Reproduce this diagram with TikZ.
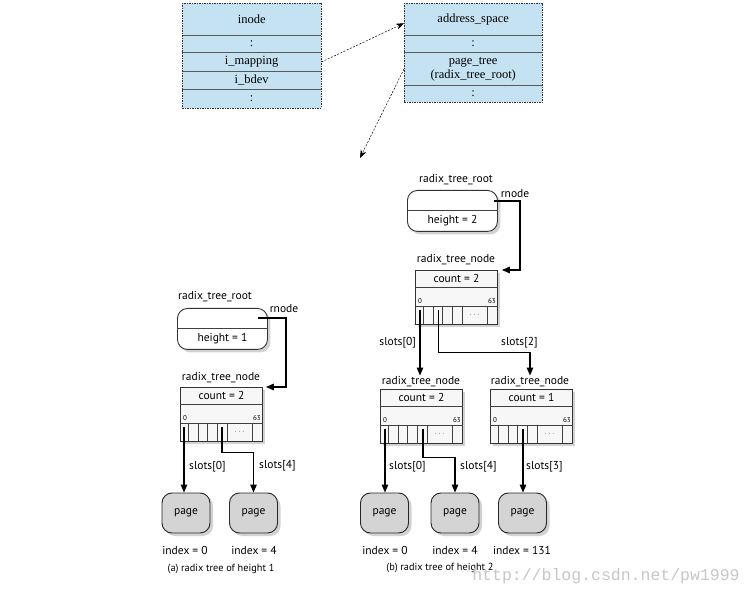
\documentclass[tikz,border=0pt]{standalone}
\usepackage{fontspec}
\setmainfont{Liberation Serif}
\newfontfamily\treefont{PT Sans}
\newfontfamily\wmfont{Liberation Mono}
\usetikzlibrary{shadows,arrows.meta,calc}
\definecolor{topblue}{RGB}{196,226,242}
\definecolor{pagegray}{RGB}{212,212,212}

\newcommand\rtroot[4]{%
  \node[rootbox] (#1) at (#2,#3) {};
  \draw[boxline] ($(#1.north west)+(0,20)$) -- ($(#1.north east)+(0,20)$);
  \node[tt] at ($(#1.north)+(0,30.5)$) {#4};
}
\newcommand\rtnode[4]{%
  \node[nodebox] (#1) at (#2,#3) {};
  \draw[boxline] ($(#1.north west)+(0,17)$) -- ($(#1.north east)+(0,17)$);
  \draw[boxline] ($(#1.north west)+(0,36)$) -- ($(#1.north east)+(0,36)$);
  \foreach \dx in {8,18,27,37,47,72}
    \draw[boxline] ($(#1.north west)+(\dx,36)$) -- ($(#1.north west)+(\dx,54)$);
  \node[tt] at ($(#1.north)+(0,8.5)$) {#4};
  \node[tinyt] at ($(#1.north west)+(5,31)$) {0};
  \node[tinyt] at ($(#1.north east)+(-6,31)$) {63};
  \node[tinyt] at ($(#1.north west)+(59.5,45)$) {$\cdots$};
}

\begin{document}
\begin{tikzpicture}[x=1pt,y=-1pt,
  cell/.style={fill=topblue, inner sep=0pt, anchor=north west,
    font=\fontsize{12.5}{14}\selectfont, align=center},
  icell/.style={cell, text width=139pt},
  acell/.style={cell, text width=138pt},
  divline/.style={draw=black!65, line width=0.6pt},
  outline/.style={draw=black!80, line width=0.6pt, dash pattern=on 1.5pt off 1pt},
  ptr/.style={line width=0.5pt, dash pattern=on 2pt off 1.5pt,
    -{Stealth[length=8pt,width=6pt]}},
  tt/.style={font=\treefont\fontsize{11.5}{13}\selectfont, inner sep=1pt},
  capt/.style={font=\treefont\fontsize{10.3}{12}\selectfont, inner sep=1pt},
  tinyt/.style={font=\treefont\fontsize{7}{8}\selectfont, inner sep=0pt},
  boxline/.style={draw=black!75, line width=0.7pt},
  shadowed/.style={drop shadow={shadow xshift=3pt,shadow yshift=-3pt,fill=black!35}},
  rootbox/.style={draw=black!80, line width=0.9pt, fill=white, rounded corners=10pt,
    minimum width=90pt, minimum height=41pt, inner sep=0pt, anchor=north west, shadowed},
  nodebox/.style={draw=black!80, line width=0.9pt, fill=black!3,
    minimum width=82pt, minimum height=54pt, inner sep=0pt, anchor=north west, shadowed},
  pagebox/.style={draw=black!85, line width=0.9pt, fill=pagegray, rounded corners=10pt,
    minimum width=48pt, minimum height=40pt, inner sep=0pt,
    font=\treefont\fontsize{11.5}{13}\selectfont, shadowed},
  conn/.style={line width=1.3pt, -{Triangle[length=8pt,width=6.5pt]}},
]
\useasboundingbox[fill=white] (0,0) rectangle (753,596);

% ---------- inode ----------
\node[icell, minimum height=32pt] (inT) at (182,3) {inode};
\node[icell, minimum height=17pt] (inD1) at (inT.south west) {:};
\node[icell, minimum height=18pt] (inM) at (inD1.south west) {i\_mapping};
\node[icell, minimum height=18pt] (inB) at (inM.south west) {i\_bdev};
\node[icell, minimum height=18pt] (inD2) at (inB.south west) {:};
\draw[divline] (inD1.north west) -- (inD1.north east);
\draw[divline] (inM.north west) -- (inM.north east);
\draw[divline] (inB.north west) -- (inB.north east);
\draw[divline] (inD2.north west) -- (inD2.north east);
\draw[outline] (inT.north west) rectangle (inD2.south east);

% ---------- address_space ----------
\node[acell, minimum height=32pt] (asT) at (404,3) {address\_space};
\node[acell, minimum height=17pt] (asD1) at (asT.south west) {:};
\node[acell, minimum height=32pt] (asP) at (asD1.south west) {page\_tree\\(radix\_tree\_root)};
\node[acell, minimum height=17pt] (asD2) at (asP.south west) {:};
\draw[divline] (asD1.north west) -- (asD1.north east);
\draw[divline] (asP.north west) -- (asP.north east);
\draw[divline] (asD2.north west) -- (asD2.north east);
\draw[outline] (asT.north west) rectangle (asD2.south east);

\draw[ptr] (inM.east) -- ([yshift=-4pt]asT.west);
\coordinate (tip) at (360,158);
\draw[ptr] (asP.west) -- (tip);

% ---------- (a) radix tree of height 1 ----------
\node[tt] (lblRA) at (215,297) {radix\_tree\_root};
\rtroot{rootA}{177}{308}{height = 1}
\node[tt] (rnA) at (284,309) {rnode};
\node[tt] (lblNA) at (221,378) {radix\_tree\_node};
\rtnode{nodeA}{180}{387}{count = 2}
\coordinate (rA) at ($(rootA.north east)+(-10,10)$);
\draw[conn] (rA) -- ++(28,0) |- ($(nodeA.north east)+(3,0)$);

\node[pagebox] (pA1) at (186,513) {page};
\node[pagebox] (pA2) at (253.5,513) {page};
\coordinate (sA0) at ($(nodeA.north west)+(4,40)$);
\coordinate (sA4) at ($(nodeA.north west)+(42,40)$);
\draw[conn] (sA0) -- (sA0 |- pA1.north);
\draw[conn] (sA4) |- ($(pA2.north)+(0,-40)$) -- (pA2.north);
\node[tt, anchor=west] (lsA0) at (188,467) {slots[0]};
\node[tt, anchor=west] (lsA4) at (258,466) {slots[4]};
\node[tt] (ixA1) at (185,550) {index = 0};
\node[tt] (ixA2) at (254,550) {index = 4};
\node[capt] (capA) at (221,569) {(a) radix tree of height 1};

% ---------- (b) radix tree of height 2 ----------
\node[tt] (lblRB) at (456,180) {radix\_tree\_root};
\rtroot{rootB}{407}{190}{height = 2}
\node[tt] (rnB) at (515,194) {rnode};
\node[tt] (lblNB) at (456,260) {radix\_tree\_node};
\rtnode{nodeB}{415}{270}{count = 2}
\coordinate (rB) at ($(rootB.north east)+(-4,11)$);
\draw[conn] (rB) -- ++(26,0) |- ($(nodeB.north east)+(4,0)$);

\node[tt] (lblC1) at (421,382) {radix\_tree\_node};
\node[tt] (lblC2) at (530,382) {radix\_tree\_node};
\rtnode{nodeC1}{380}{389}{count = 2}
\rtnode{nodeC2}{490}{389}{count = 1}
\coordinate (sB0) at ($(nodeB.north west)+(5,40)$);
\coordinate (sB2) at ($(nodeB.north west)+(23.5,40)$);
\draw[conn] (sB0) -- (sB0 |- lblC1.north);
\draw[conn] (sB2) |- ($(lblC2.north)+(0,-23)$) -- (lblC2.north);
\node[tt, anchor=east] (lsB0) at (417,343) {slots[0]};
\node[tt, anchor=west] (lsB2) at (500,343) {slots[2]};

\node[pagebox] (pB1) at (384.5,513) {page};
\node[pagebox] (pB2) at (455,513) {page};
\node[pagebox] (pB3) at (522.5,513) {page};
\coordinate (sC1a) at ($(nodeC1.north west)+(5,40)$);
\coordinate (sC1b) at ($(nodeC1.north west)+(43,40)$);
\coordinate (sC2) at ($(nodeC2.north west)+(33,40)$);
\draw[conn] (sC1a) -- (sC1a |- pB1.north);
\draw[conn] (sC1b) |- ($(pB2.north)+(0,-35)$) -- (pB2.north);
\draw[conn] (sC2) -- (sC2 |- pB3.north);
\node[tt, anchor=west] (lsC0) at (388,467) {slots[0]};
\node[tt, anchor=west] (lsC4) at (459,467) {slots[4]};
\node[tt, anchor=west] (lsC3) at (525,467) {slots[3]};
\node[tt] (ixB1) at (385,550) {index = 0};
\node[tt] (ixB2) at (455,550) {index = 4};
\node[tt] (ixB3) at (522,550) {index = 131};
\node[capt] (capB) at (440,568) {(b) radix tree of height 2};

\node[font=\wmfont\fontsize{16.5}{18}\selectfont, text=black!22, inner sep=0pt] (wm)
  at (606,576) {http://blog.csdn.net/pw1999};
\end{tikzpicture}
\end{document}
